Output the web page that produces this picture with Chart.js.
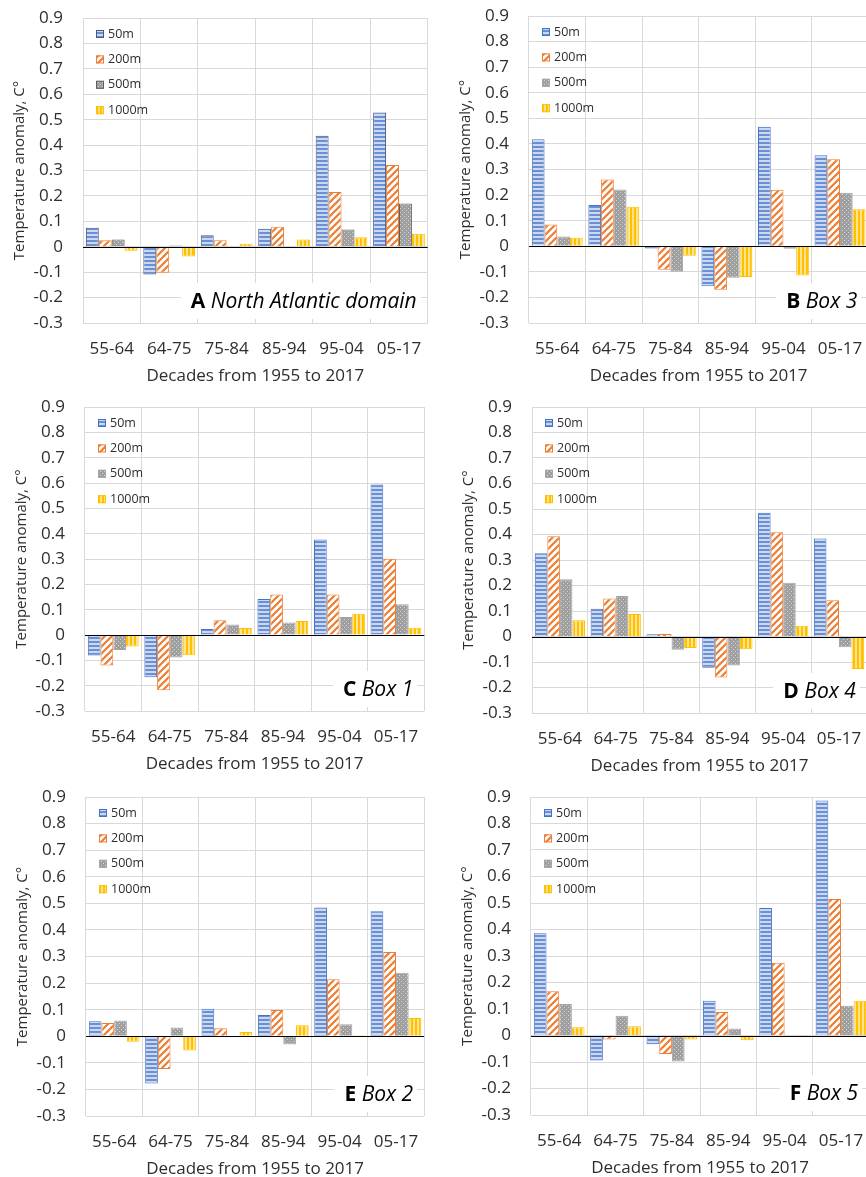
<!DOCTYPE html>
<html>
<head>
<meta charset="utf-8">
<script src="https://cdn.jsdelivr.net/npm/chart.js@4.4.0/dist/chart.umd.min.js"></script>
<style>
html, body { margin: 0; padding: 0; background: #fff; overflow: hidden; width: 866px; height: 1177px; position: relative; }
canvas { position: absolute; }
</style>
</head>
<body>
<canvas id="chartA"></canvas>
<canvas id="chartB"></canvas>
<canvas id="chartC"></canvas>
<canvas id="chartD"></canvas>
<canvas id="chartE"></canvas>
<canvas id="chartF"></canvas>
<script>
// categories and series
var decades = ['55-64', '64-75', '75-84', '85-94', '95-04', '05-17'];
var depths = ['50m', '200m', '500m', '1000m'];
var yMin = -0.3, yMax = 0.9, yStep = 0.1;

// each panel: one row per depth (50m, 200m, 500m, 1000m)
var northAtlantic = [
    [0.075, -0.109, 0.045, 0.071, 0.437, 0.528],
    [0.026, -0.102, 0.026, 0.079, 0.215, 0.322],
    [0.029, 0.005, 0.003, -0.005, 0.068, 0.170],
    [-0.016, -0.038, 0.012, 0.029, 0.037, 0.051]
];
var box3 = [
    [0.418, 0.161, -0.009, -0.156, 0.467, 0.356],
    [0.085, 0.261, -0.092, -0.170, 0.221, 0.340],
    [0.038, 0.222, -0.100, -0.123, -0.010, 0.209],
    [0.033, 0.154, -0.037, -0.120, -0.114, 0.145]
];
var box1 = [
    [-0.081, -0.167, 0.024, 0.142, 0.377, 0.594],
    [-0.120, -0.218, 0.058, 0.160, 0.160, 0.301],
    [-0.059, -0.089, 0.041, 0.049, 0.071, 0.121],
    [-0.045, -0.080, 0.028, 0.055, 0.084, 0.029]
];
var box4 = [
    [0.326, 0.109, 0.009, -0.123, 0.485, 0.384],
    [0.393, 0.149, 0.010, -0.161, 0.409, 0.142],
    [0.225, 0.159, -0.052, -0.114, 0.211, -0.042],
    [0.064, 0.088, -0.045, -0.050, 0.042, -0.127]
];
var box2 = [
    [0.056, -0.178, 0.103, 0.080, 0.484, 0.470],
    [0.050, -0.123, 0.030, 0.099, 0.214, 0.317],
    [0.059, 0.033, -0.004, -0.031, 0.045, 0.239],
    [-0.021, -0.054, 0.016, 0.041, 0.004, 0.069]
];
var box5 = [
    [0.386, -0.094, -0.033, 0.131, 0.481, 0.887],
    [0.167, -0.015, -0.070, 0.089, 0.275, 0.515],
    [0.119, 0.075, -0.098, 0.026, -0.004, 0.112],
    [0.031, 0.035, -0.015, -0.018, -0.001, 0.131]
];

var FONT = '"Open Sans", sans-serif';
var TEXT = '#2e2e2e';
var GRID = '#d9d9d9';
Chart.defaults.font.family = FONT;

// small tiles -> canvas patterns (horizontal, diagonal, dotted, vertical)
function makePattern(kind) {
    var c = document.createElement('canvas');
    var g = c.getContext('2d');
    if (kind === 'blue') {
        c.width = 4; c.height = 4;
        g.fillStyle = '#cbd8f1'; g.fillRect(0, 0, 4, 4);
        g.fillStyle = '#6a8fd3'; g.fillRect(0, 0, 4, 2);
    } else if (kind === 'orange') {
        c.width = 7; c.height = 7;
        g.fillStyle = '#ffffff'; g.fillRect(0, 0, 7, 7);
        g.strokeStyle = '#ed7d31'; g.lineWidth = 2.2;
        g.beginPath();
        g.moveTo(-1, 8); g.lineTo(8, -1);
        g.moveTo(-4.5, 4.5); g.lineTo(4.5, -4.5);
        g.moveTo(2.5, 11.5); g.lineTo(11.5, 2.5);
        g.stroke();
    } else if (kind === 'gray') {
        c.width = 4; c.height = 4;
        g.fillStyle = '#9f9f9f'; g.fillRect(0, 0, 4, 4);
        g.fillStyle = '#d6d6d6'; g.fillRect(0, 0, 1, 1); g.fillRect(2, 2, 1, 1);
    } else {
        c.width = 4; c.height = 4;
        g.fillStyle = '#ffe38f'; g.fillRect(0, 0, 4, 4);
        g.fillStyle = '#ffc000'; g.fillRect(0, 0, 2, 4);
    }
    var probe = document.createElement('canvas').getContext('2d');
    return probe.createPattern(c, 'repeat');
}

var fills = [makePattern('blue'), makePattern('orange'), makePattern('gray'), makePattern('yellow')];
var borders = ['#4472c4', '#ed7d31', '#a5a5a5', '#ffc000'];
// panel A uses darker outlines on the blue and gray bars
var bordersDark = ['#4a5a7a', '#ed7d31', '#606060', '#ffc000'];

var extras = {
    id: 'extras',
    afterDatasetsDraw: function (chart) {
        var ctx = chart.ctx, area = chart.chartArea;
        var y0 = Math.round(chart.scales.y.getPixelForValue(0)) + 0.5;
        ctx.save();
        ctx.strokeStyle = '#000';
        ctx.lineWidth = 1;
        ctx.beginPath();
        ctx.moveTo(area.left, y0);
        ctx.lineTo(area.right, y0);
        ctx.stroke();
        ctx.restore();
    },
    afterDraw: function (chart) {
        var ctx = chart.ctx, area = chart.chartArea;
        var opts = chart.options.plugins.extras;
        ctx.save();
        // legend inside the plot
        ctx.font = '12.5px ' + FONT;
        ctx.textBaseline = 'middle';
        chart.data.datasets.forEach(function (ds, i) {
            var x = area.left + 13;
            var y = area.top + 16 + i * 25.4;
            ctx.fillStyle = ds.backgroundColor;
            ctx.fillRect(x, y - 4, 8, 8);
            ctx.strokeStyle = ds.borderColor;
            ctx.strokeRect(x + 0.5, y - 3.5, 7, 7);
            ctx.fillStyle = TEXT;
            ctx.fillText(ds.label, x + 12, y);
        });
        // panel label, bold letter + italic name on a white box
        var bold = 'bold 21px ' + FONT, ital = 'italic 21px ' + FONT;
        ctx.font = bold;
        var w1 = ctx.measureText(opts.letter + ' ').width;
        ctx.font = ital;
        var w2 = ctx.measureText(opts.name).width;
        var right = area.right - 11, ly = area.bottom - 21;
        var lx = right - w1 - w2;
        ctx.fillStyle = '#fff';
        ctx.fillRect(lx - 10, ly - 19, w1 + w2 + 14, 36);
        ctx.fillStyle = '#000';
        ctx.textAlign = 'left';
        ctx.font = bold;
        ctx.fillText(opts.letter, lx, ly);
        ctx.font = ital;
        ctx.fillText(opts.name, lx + w1, ly);
        ctx.restore();
    }
};

var panels = [
    { id: 'chartA', letter: 'A', name: 'North Atlantic domain', values: northAtlantic, lines: bordersDark, left: 0, top: 0, plotW: 345, plotH: 305 },
    { id: 'chartB', letter: 'B', name: 'Box 3', values: box3, lines: borders, left: 446, top: -2, plotW: 340, plotH: 307 },
    { id: 'chartC', letter: 'C', name: 'Box 1', values: box1, lines: borders, left: 2, top: 389, plotW: 340, plotH: 304 },
    { id: 'chartD', letter: 'D', name: 'Box 4', values: box4, lines: borders, left: 449, top: 389, plotW: 336, plotH: 306 },
    { id: 'chartE', letter: 'E', name: 'Box 2', values: box2, lines: borders, left: 3, top: 779, plotW: 339, plotH: 319 },
    { id: 'chartF', letter: 'F', name: 'Box 5', values: box5, lines: borders, left: 448, top: 779, plotW: 339, plotH: 318 }
];

panels.forEach(function (p) {
    var canvas = document.getElementById(p.id);
    canvas.width = 83 + p.plotW + 10;
    canvas.height = 18 + p.plotH + 66;
    canvas.style.left = p.left + 'px';
    canvas.style.top = p.top + 'px';

    var datasets = depths.map(function (d, i) {
        return {
            label: d,
            data: p.values[i],
            backgroundColor: fills[i],
            borderColor: p.lines[i],
            borderWidth: 1,
            categoryPercentage: 0.9,
            barPercentage: 1
        };
    });

    new Chart(canvas.getContext('2d'), {
        type: 'bar',
        data: { labels: decades, datasets: datasets },
        options: {
            responsive: false,
            animation: false,
            layout: { padding: { top: 18, right: 10, left: 0, bottom: 0 } },
            plugins: {
                legend: { display: false },
                tooltip: { enabled: false },
                extras: { letter: p.letter, name: p.name }
            },
            scales: {
                x: {
                    grid: { color: GRID, offset: true, drawTicks: false },
                    border: { display: false },
                    ticks: { color: TEXT, font: { size: 17 }, padding: 16, maxRotation: 0 },
                    title: { display: true, text: 'Decades from 1955 to 2017', color: TEXT, font: { size: 17 }, padding: { top: 0, bottom: 3 } },
                    afterFit: function (s) { s.height = 66; }
                },
                y: {
                    min: yMin,
                    max: yMax,
                    // invisible tick marks give the label gap; tick padding would push the plot top down
                    grid: { color: GRID, drawTicks: true, tickLength: 20, tickColor: 'rgba(0,0,0,0)' },
                    border: { display: false },
                    ticks: {
                        stepSize: yStep,
                        color: TEXT,
                        font: { size: 17 },
                        padding: 0,
                        callback: function (v) { return String(Math.round(v * 10) / 10); }
                    },
                    title: { display: true, text: 'Temperature anomaly, C°', color: TEXT, font: { size: 15 }, padding: { top: 11, bottom: 0 } },
                    afterFit: function (s) { s.width = 83; }
                }
            }
        },
        plugins: [extras]
    });
});
</script>
</body>
</html>
